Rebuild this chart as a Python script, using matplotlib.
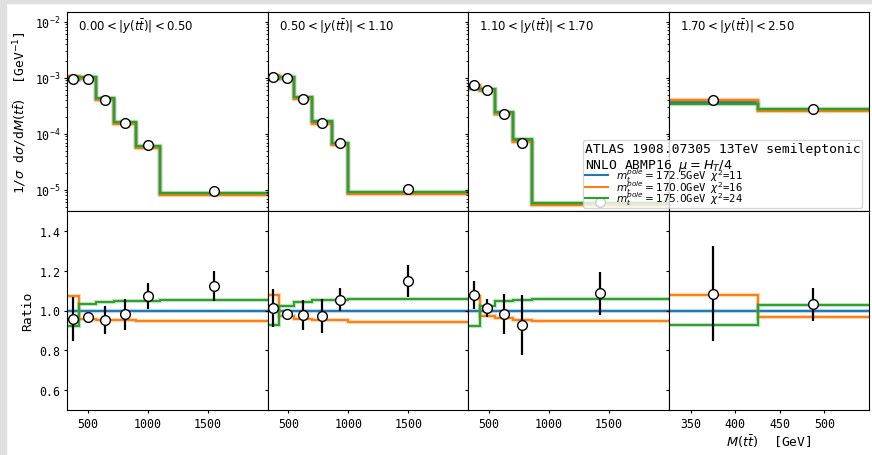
import matplotlib
matplotlib.use("Agg")
import matplotlib.pyplot as plt
import numpy as np
from matplotlib.patches import Rectangle

plt.rcParams['font.family'] = ['DejaVu Sans Mono']
plt.rcParams['mathtext.fontset'] = 'dejavusans'

# ---------------- data ----------------
rap_labels = [r"$0.00 < |y(t\bar{t})| < 0.50$",
              r"$0.50 < |y(t\bar{t})| < 1.10$",
              r"$1.10 < |y(t\bar{t})| < 1.70$",
              r"$1.70 < |y(t\bar{t})| < 2.50$"]

edges_y1 = [325, 425, 570, 715, 900, 1100, 2000]
edges_y2 = [325, 425, 550, 700, 860, 1000, 2000]
edges_y3 = [325, 425, 550, 700, 860, 2000]
edges_y4 = [325, 425, 550]

# data (ATLAS)
data_y1 = [9.68e-4, 9.58e-4, 3.96e-4, 1.53e-4, 6.22e-5, 9.43e-6]
err_y1 = [1.11e-4, 2.67e-5, 2.95e-5, 1.22e-5, 3.89e-6, 6.47e-7]
data_y2 = [1.050e-3, 9.82e-4, 4.20e-4, 1.557e-4, 6.96e-5, 1.016e-5]
err_y2 = [9.96e-5, 2.70e-5, 3.31e-5, 1.376e-5, 3.89e-6, 6.99e-7]
data_y3 = [7.48e-4, 6.17e-4, 2.26e-4, 6.98e-5, 6.08e-6]
err_y3 = [4.85e-5, 2.74e-5, 2.30e-5, 1.13e-5, 6.0e-7]
data_y4 = [4.07e-4, 2.735e-4]
err_y4 = [8.89e-5, 2.20e-5]

# NNLO predictions, m_t = 172.5 / 170.0 / 175.0 GeV
nnlo1725_y1 = [1.01e-3, 0.99e-3, 4.16e-4, 1.56e-4, 5.80e-5, 8.40e-6]
nnlo1700_y1 = [1.083e-3, 9.50e-4, 3.96e-4, 1.482e-4, 5.50e-5, 7.94e-6]
nnlo1750_y1 = [9.29e-4, 1.023e-3, 4.34e-4, 1.638e-4, 6.09e-5, 8.85e-6]

nnlo1725_y2 = [1.037e-3, 1.0e-3, 4.30e-4, 1.60e-4, 6.60e-5, 8.85e-6]
nnlo1700_y2 = [1.117e-3, 9.72e-4, 4.12e-4, 1.523e-4, 6.27e-5, 8.36e-6]
nnlo1750_y2 = [9.61e-4, 1.025e-3, 4.48e-4, 1.688e-4, 6.96e-5, 9.34e-6]

nnlo1725_y3 = [6.93e-4, 6.09e-4, 2.30e-4, 7.53e-5, 5.60e-6]
nnlo1700_y3 = [7.43e-4, 5.92e-4, 2.215e-4, 7.17e-5, 5.31e-6]
nnlo1750_y3 = [6.39e-4, 6.24e-4, 2.408e-4, 7.93e-5, 5.91e-6]

nnlo1725_y4 = [3.75e-4, 2.65e-4]
nnlo1700_y4 = [4.05e-4, 2.563e-4]
nnlo1750_y4 = [3.469e-4, 2.722e-4]

mass_labels = [r"$m_t^{pole}=172.5$GeV $\chi^2$=11",
               r"$m_t^{pole}=170.0$GeV $\chi^2$=16",
               r"$m_t^{pole}=175.0$GeV $\chi^2$=24"]
legend_title = "ATLAS 1908.07305 13TeV semileptonic\nNNLO ABMP16 $\\mu=H_T/4$"

panels = [
    (edges_y1, data_y1, err_y1, [nnlo1725_y1, nnlo1700_y1, nnlo1750_y1]),
    (edges_y2, data_y2, err_y2, [nnlo1725_y2, nnlo1700_y2, nnlo1750_y2]),
    (edges_y3, data_y3, err_y3, [nnlo1725_y3, nnlo1700_y3, nnlo1750_y3]),
    (edges_y4, data_y4, err_y4, [nnlo1725_y4, nnlo1700_y4, nnlo1750_y4]),
]
colors = ['#1f77b4', '#ff7f0e', '#2ca02c']

# ---------------- figure ----------------
fig = plt.figure(figsize=(8.72, 4.56), dpi=100)
gs = fig.add_gridspec(2, 4, left=67/872, right=869/872, top=1-13/456,
                      bottom=1-411/456, hspace=0, wspace=0)
top_axes = []
for i in range(4):
    ax = fig.add_subplot(gs[0, i], sharey=top_axes[0] if i > 0 else None)
    top_axes.append(ax)
bot_axes = []
for i in range(4):
    ax = fig.add_subplot(gs[1, i], sharex=top_axes[i],
                         sharey=bot_axes[0] if i > 0 else None)
    bot_axes.append(ax)

handles = []
for i, (edges, data, err, preds) in enumerate(panels):
    axt, axb = top_axes[i], bot_axes[i]
    edges = np.array(edges, dtype=float)
    centers = 0.5 * (edges[1:] + edges[:-1])
    data = np.array(data)
    err = np.array(err)
    ref = np.array(preds[0])
    for pred, c, lab in zip(preds, colors, mass_labels):
        pred = np.array(pred)
        axt.stairs(pred, edges, baseline=None, color=c, lw=3.2, alpha=0.3)
        h = axt.stairs(pred, edges, baseline=None, color=c, lw=1.5, label=lab)
        axb.stairs(pred / ref, edges, baseline=None, color=c, lw=3.0, alpha=0.3)
        axb.stairs(pred / ref, edges, baseline=None, color=c, lw=1.4)
        if i == 0:
            handles.append(h)
    axt.plot(centers, data, 'o', mfc='white', mec='black', mew=1.0, ms=7, zorder=5)
    axb.errorbar(centers, data / ref, yerr=err / ref, fmt='o', mfc='white',
                 mec='black', mew=1.0, ms=7, ecolor='black', elinewidth=1.6,
                 capsize=0, zorder=5)
    axt.text(0.055, 0.975, rap_labels[i], transform=axt.transAxes, va='top',
             ha='left', fontsize=8.5, family='DejaVu Sans')

    axt.set_yscale('log')
    axt.tick_params(labelbottom=False)
    if i > 0:
        axt.tick_params(labelleft=False)
        axb.tick_params(labelleft=False)
    if i < 3:
        axb.set_xlim(325, 2000)
        axb.set_xticks([500, 1000, 1500])
    else:
        axb.set_xlim(325, 550)
        axb.set_xticks([350, 400, 450, 500])

for ax in top_axes + bot_axes:
    ax.tick_params(which='major', length=2.4, width=0.8, labelsize=8.4, pad=2.5)
    ax.tick_params(which='minor', length=1.3, width=0.6)

top_axes[0].set_ylim(4.2e-6, 1.49e-2)
bot_axes[0].set_ylim(0.5, 1.5)
bot_axes[0].set_yticks([0.6, 0.8, 1.0, 1.2, 1.4])

top_axes[0].set_ylabel(r"1/$\sigma$ d$\sigma$/d$M(t\bar{t})$  [GeV$^{-1}$]", fontsize=9.4)
bot_axes[0].set_ylabel("Ratio", fontsize=9.4)
bot_axes[3].set_xlabel(r"$M(t\bar{t})$  [GeV]", fontsize=9.4, labelpad=2)

leg = fig.legend(handles=handles, loc='upper left',
                 bbox_to_anchor=(583/872, 1-141/456), title=legend_title,
                 title_fontsize=9.4, fontsize=7.6, alignment='left',
                 borderpad=0.15, labelspacing=-0.62, handlelength=2.2,
                 handletextpad=0.8, borderaxespad=0, framealpha=0.8)

# light grey frame strip of the original image
fig.patches.append(Rectangle((0, 1-4/456), 1, 4/456, transform=fig.transFigure,
                             color='#e0e0e0', zorder=-1))
fig.patches.append(Rectangle((0, 0), 6/872, 1, transform=fig.transFigure,
                             color='#e0e0e0', zorder=-1))

fig.savefig("out.png", dpi=100)
